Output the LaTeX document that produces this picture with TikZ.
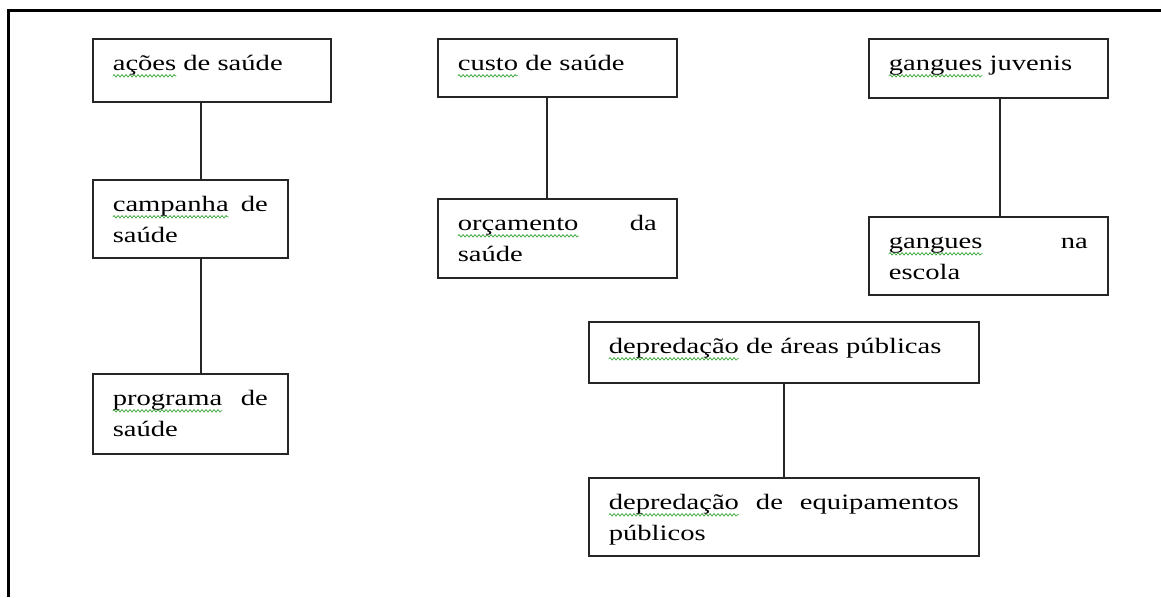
\documentclass[tikz,border=0pt]{standalone}
\usepackage{fontspec}
\newfontfamily\boxfont{Liberation Serif}[FakeStretch=1.3]
\usetikzlibrary{math,decorations.pathmorphing}

\definecolor{spellgreen}{RGB}{70,170,70}
\hyphenpenalty=10000
\exhyphenpenalty=10000
\sloppy

% wavy green mark under a word
\newlength\spellwd
\newcommand\spell[1]{\settowidth\spellwd{#1}%
  \rlap{\tikz[overlay,baseline=0pt]\draw[spellgreen, line width=0.8pt, decorate,
    decoration={snake, amplitude=1.2pt, segment length=4pt}] (0pt,-5pt) -- (\spellwd,-5pt);}#1}

\tikzset{
  concept/.style={draw=black!85, line width=1.6pt, rectangle, anchor=north west,
    inner xsep=20pt, inner ysep=0pt, text height=32pt, align=justify,
    font=\boxfont\fontsize{22}{31}\selectfont},
  link/.style={draw=black!85, line width=1.6pt}
}

\begin{document}
\begin{tikzpicture}[x=1pt, y=-1pt]
  \tikzmath{\framew = 1161;}
  \tikzmath{\frameh = 597;}

  \useasboundingbox (0, 0) rectangle (\framew, \frameh);
  \draw[line width=3.4pt] (8.5, \frameh) -- (8.5, 10.7) -- (\framew, 10.7);

  % saude
  \node[concept, text width=198pt, text depth=31pt] (acoes) at (92, 38) {\spell{ações} de saúde};
  \node[concept, text width=155pt, text depth=46pt] (campanha) at (92, 179) {\spell{campanha} de saúde};
  \node[concept, text width=155pt, text depth=48pt] (programa) at (92, 373) {\spell{programa} de saúde};

  \node[concept, text width=199pt, text depth=26pt] (custo) at (437, 38) {\spell{custo} de saúde};
  \node[concept, text width=199pt, text depth=47pt] (orcamento) at (437, 198) {\spell{orçamento} da saúde};

  % gangues
  \node[concept, text width=199pt, text depth=27pt] (juvenis) at (868, 38) {\spell{gangues} juvenis};
  \node[concept, text width=199pt, text depth=46pt] (escola) at (868, 216) {\spell{gangues} na escola};

  % depredacao
  \node[concept, text width=350pt, text depth=29pt] (areas) at (588, 321) {\spell{depredação} de áreas públicas};
  \node[concept, text width=350pt, text depth=46pt] (equip) at (588, 477) {\spell{depredação} de equipamentos públicos};

  \coordinate (c1) at ([xshift=-11pt]acoes.south);
  \coordinate (c2) at ([xshift=10.5pt]campanha.south);
  \coordinate (c3) at ([xshift=-10.5pt]custo.south);
  \coordinate (c4) at ([xshift=11.5pt]juvenis.south);

  \draw[link] (c1) -- (c1 |- campanha.north);
  \draw[link] (c2) -- (c2 |- programa.north);
  \draw[link] (c3) -- (c3 |- orcamento.north);
  \draw[link] (c4) -- (c4 |- escola.north);
  \draw[link] (areas) -- (equip);
\end{tikzpicture}
\end{document}
